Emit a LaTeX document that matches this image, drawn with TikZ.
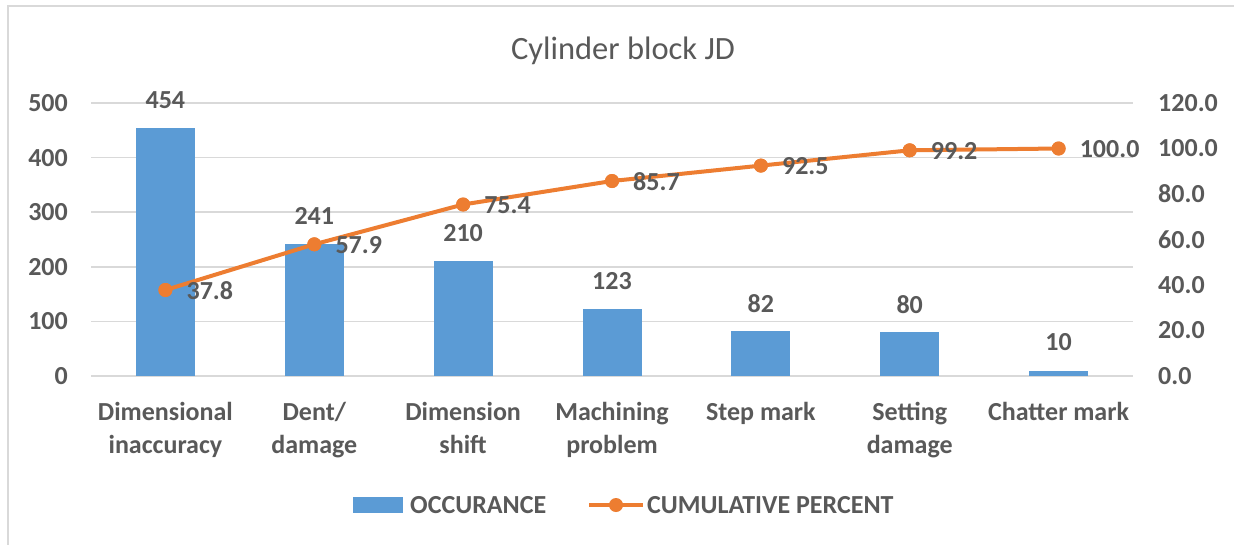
\documentclass[tikz,border=0pt]{standalone}
\usepackage{fontspec}
\setmainfont{Carlito}
\definecolor{barblue}{HTML}{5B9BD5}
\definecolor{lineorange}{HTML}{ED7D31}
\definecolor{txtgray}{HTML}{595959}
\definecolor{gridgray}{HTML}{D9D9D9}
\begin{document}
\begin{tikzpicture}[x=1pt,y=-1pt,
  lbl/.style={font=\fontsize{26}{33}\selectfont\bfseries, text=txtgray, inner sep=0pt},
  ttl/.style={font=\fontsize{32.5}{38}\selectfont, text=txtgray, inner sep=0pt},
  grid/.style={draw=gridgray, line width=1.5pt},
  bar/.style={fill=barblue, draw=none},
  cum/.style={draw=lineorange, line width=4pt, line join=round},
  mk/.style={circle, fill=lineorange, minimum size=14pt, inner sep=0pt},
  cat/.style={lbl, align=center, anchor=base},
  barlbl/.style={lbl, anchor=center},
  pctlbl/.style={lbl, anchor=west},
]
\useasboundingbox (0,0) rectangle (1234,544);
\fill[white] (0,0) rectangle (1234,544);
% chart frame
\begin{scope}
\clip (0,0) rectangle (1234,544);
\draw[gridgray, line width=2pt] (8,560) -- (8,6) -- (1250,6);
\end{scope}
% title
\node[ttl, anchor=base] (title) at (623,59) {Cylinder block JD};
% gridlines and left axis labels
\foreach \v [count=\i] in {0,100,200,300,400,500} {
  \pgfmathsetmacro{\yy}{376-\v*0.546}
  \draw[grid] (91,\yy) -- (1133,\yy);
  \node[lbl, anchor=east] (yl\i) at (68,\yy) {\v};
}
% right axis labels
\foreach \r [count=\i] in {0.0,20.0,40.0,60.0,80.0,100.0,120.0} {
  \pgfmathsetmacro{\yy}{376-\r*2.275}
  \node[lbl, anchor=west] (yr\i) at (1158,\yy) {\r};
}
% bars
\foreach \cx/\v/\n in {165.4/454/1, 314.3/241/2, 463.1/210/3, 612.0/123/4, 760.9/82/5, 909.7/80/6, 1058.6/10/7} {
  \pgfmathsetmacro{\yt}{376-\v*0.546}
  \fill[bar] (\cx-29.5,376) rectangle (\cx+29.5,\yt);
  \node[barlbl] (bl\n) at (\cx,\yt-28) {\v};
}
% cumulative line markers
\node[mk] (p1) at (165.4,290.0) {};
\node[mk] (p2) at (314.3,244.3) {};
\node[mk] (p3) at (463.1,204.5) {};
\node[mk] (p4) at (612.0,181.0) {};
\node[mk] (p5) at (760.9,165.6) {};
\node[mk] (p6) at (909.7,150.3) {};
\node[mk] (p7) at (1058.6,148.5) {};
\draw[cum] (p1.center) -- (p2.center) -- (p3.center) -- (p4.center) -- (p5.center) -- (p6.center) -- (p7.center);
\foreach \n in {1,...,7} { \node[mk] at (p\n) {}; }
% percent labels
\node[pctlbl] (q1) at (186.4,291) {37.8};
\node[pctlbl] (q2) at (335.3,245.5) {57.9};
\node[pctlbl] (q3) at (484.1,205) {75.4};
\node[pctlbl] (q4) at (633.0,182) {85.7};
\node[pctlbl] (q5) at (781.9,166.5) {92.5};
\node[pctlbl] (q6) at (930.7,151) {99.2};
\node[pctlbl] (q7) at (1079.6,149) {100.0};
% category labels (base = last line)
\node[cat] (c1) at (165.4,453) {Dimensional\\inaccuracy};
\node[cat] (c2) at (314.3,453) {Dent/\\damage};
\node[cat] (c3) at (463.1,453) {Dimension\\shift};
\node[cat] (c4) at (612.0,453) {Machining\\problem};
\node[cat] (c5) at (760.9,420) {Step mark};
\node[cat] (c6) at (909.7,453) {Setting\\damage};
\node[cat] (c7) at (1058.6,420) {Chatter mark};
% legend
\fill[bar] (353,497) rectangle (403,513);
\node[lbl, anchor=west] (leg1) at (410,505) {OCCURANCE};
\coordinate (la) at (589,505);
\coordinate (lb) at (643,505);
\draw[cum] (la) -- (lb);
\node[mk] (lm) at (616,505) {};
\node[lbl, anchor=west] (leg2) at (647,505) {CUMULATIVE PERCENT};
\end{tikzpicture}
\end{document}
